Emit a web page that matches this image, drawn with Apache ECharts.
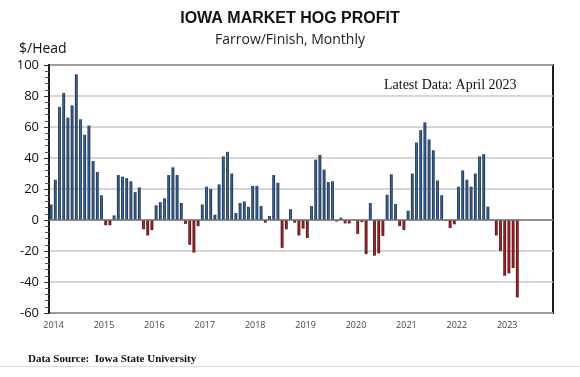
<!DOCTYPE html>
<html><head><meta charset="utf-8">
<script src="https://cdn.jsdelivr.net/npm/echarts@6/dist/echarts.min.js"></script>
<style>html,body{margin:0;padding:0;background:#fff}#c{width:580px;height:377px}</style>
</head><body><div id="c"></div>
<script>
const years = ['2014','2015','2016','2017','2018','2019','2020','2021','2022','2023'];
const p2014 = [10, 26, 73, 82, 66, 74, 94, 65, 55, 61, 38, 31];
const p2015 = [16, -3.4, -3.4, 3, 29, 28, 27, 25, 18, 21, -6, -10];
const p2016 = [-6.5, 9.5, 11.5, 14, 29, 34, 29, 11, -2.5, -16, -21, -4];
const p2017 = [10, 21.5, 20, 3.4, 23, 41, 44, 30, 4.5, 11, 12, 8.5];
const p2018 = [22, 22, 9, -1.7, 2.6, 29, 24, -18, -6, 7, -1.7, -10];
const p2019 = [-5.6, -11.6, 9, 39, 42, 32.5, 24.5, 25, -1, 1.5, -2.2, -2.2];
const p2020 = [0.4, -9, -1.3, -22, 11, -23, -21.5, -10.3, 16.3, 29.5, 10.3, -4];
const p2021 = [-6.5, 6, 30, 50, 58, 63, 52, 45, 25.5, 16, -0.4, -5.2];
const p2022 = [-2.8, 21.5, 32, 26, 21.5, 30, 41, 42.5, 8.6, -0.4, -10, -20];
const p2023 = [-36, -34.5, -31, -50];
const yTicks = [100, 80, 60, 40, 20, 0, -20, -40, -60];

const profit = [].concat(p2014,p2015,p2016,p2017,p2018,p2019,p2020,p2021,p2022,p2023);
const cats = [];
years.forEach(y => { for (let m = 1; m <= 12; m++) cats.push(y + '-' + m); });
const vals = cats.map((c, i) => i < profit.length ? profit[i] : null);

const G = echarts.graphic.LinearGradient;
const blue = new G(0,0,1,0,[{offset:0,color:'#14263c'},{offset:0.5,color:'#3b679a'},{offset:1,color:'#14263c'}]);
const red = new G(0,0,1,0,[{offset:0,color:'#4e0c0e'},{offset:0.5,color:'#a3262a'},{offset:1,color:'#4e0c0e'}]);

const chart = echarts.init(document.getElementById('c'), null, {renderer:'canvas'});
chart.setOption({
  animation: false,
  backgroundColor: '#fff',
  title: [
    {text:'IOWA MARKET HOG PROFIT', left:'center', top:6, textStyle:{fontFamily:'Liberation Sans', fontWeight:'bold', fontSize:16, color:'#111'}},
    {text:'Farrow/Finish, Monthly', left:'center', top:28, textStyle:{fontFamily:'Open Sans', fontWeight:'normal', fontSize:14, color:'#222'}}
  ],
  grid: {left:49, right:27, top:65, bottom:64, show:true, borderColor:'#1a1a1a', borderWidth:2, backgroundColor:'transparent'},
  xAxis: {
    type:'category', data:cats, boundaryGap:true,
    axisLine:{show:false, onZero:false}, axisTick:{show:false},
    axisLabel:{interval:0, margin:8, fontSize:9, color:'#444', fontFamily:'Open Sans', padding:[0,0,0,5],
      formatter:(v)=> v.split('-')[1] === '1' ? v.split('-')[0] : ''}
  },
  yAxis: {
    type:'value', min:-60, max:100, interval:20,
    axisLine:{show:true, lineStyle:{color:'#1a1a1a', width:2}},
    axisTick:{show:true, length:5, lineStyle:{color:'#333'}},
    minorTick:{show:true, splitNumber:5, length:4, lineStyle:{color:'#555'}},
    splitLine:{show:true, lineStyle:{color:'#c8c8c8', width:1.5}},
    axisLabel:{fontSize:13, color:'#111', fontFamily:'Open Sans', margin:10,
      formatter:(v)=> yTicks.includes(v) ? String(v) : ''}
  },
  series: [{
    type:'bar', data:vals, barCategoryGap:'32%',
    itemStyle:{color:(p)=> p.value >= 0 ? blue : red},
    markLine:{silent:true, symbol:'none', label:{show:false},
      lineStyle:{color:'#777', width:1.5, type:'solid'}, data:[{yAxis:0}]}
  }],
  graphic: [
    {type:'text', left:19, top:42, style:{text:'$/Head', fontFamily:'Open Sans', fontSize:14, fill:'#111'}},
    {type:'text', left:384, top:78, style:{text:'Latest Data: April 2023', fontFamily:'Liberation Serif', fontSize:14, fill:'#111'}},
    {type:'text', left:28, top:354, style:{text:'Data Source:  Iowa State University', fontFamily:'Liberation Serif', fontWeight:'bold', fontSize:11, fill:'#111'}},
    {type:'rect', shape:{x:0, y:366, width:580, height:1}, style:{fill:'#ddd'}}
  ]
});
</script></body></html>
